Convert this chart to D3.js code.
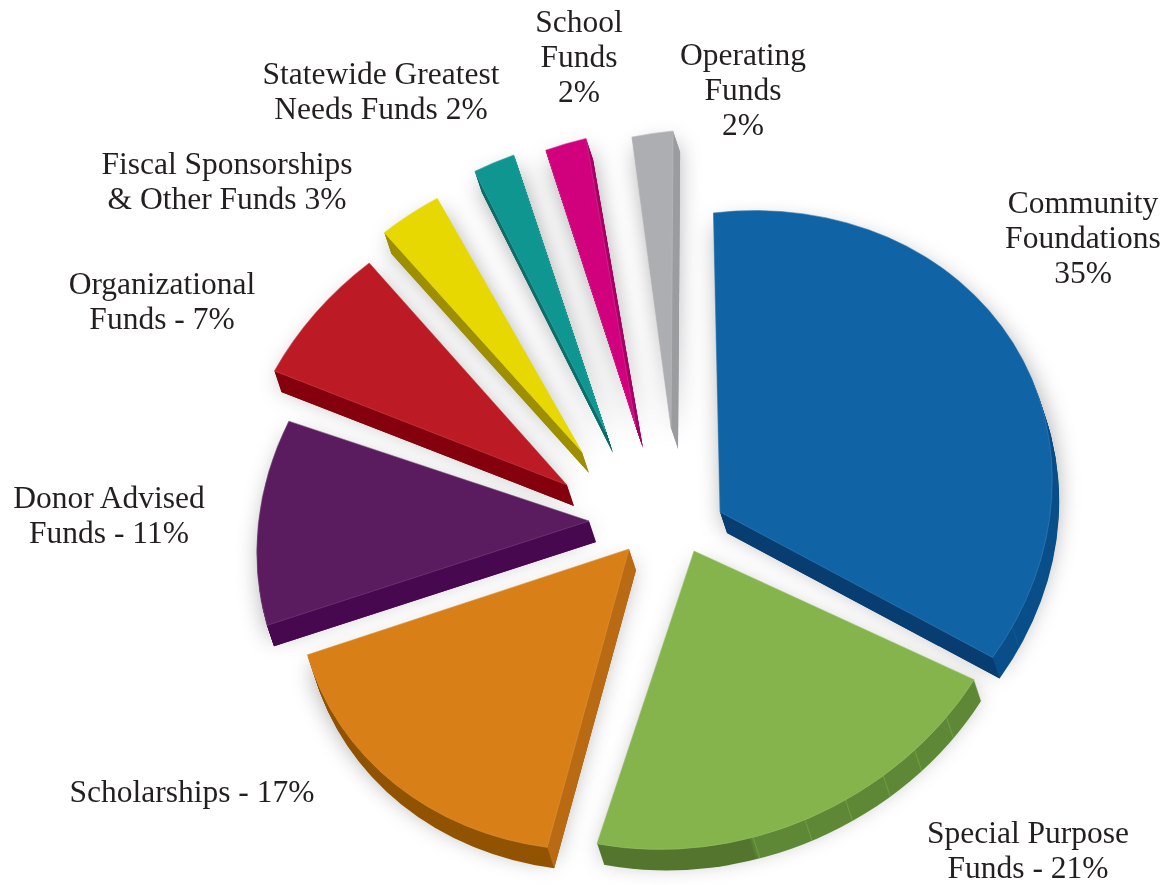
<!DOCTYPE html>
<html>
<head>
<meta charset="utf-8">
<script src="https://cdn.jsdelivr.net/npm/d3@7"></script>
<style>
  html, body { margin: 0; padding: 0; background: #fff; }
  text { font-family: "Liberation Serif", serif; fill: #231f20; }
</style>
</head>
<body>
<div id="container"></div>
<script>
//the data, as printed on the chart
var categories = ["Community Foundations", "Special Purpose Funds", "Scholarships", "Donor Advised Funds",
    "Organizational Funds", "Fiscal Sponsorships & Other Funds", "Statewide Greatest Needs Funds",
    "School Funds", "Operating Funds"];
var values = [35, 21, 17, 11, 7, 3, 2, 2, 2];
var labels = ["Community|Foundations|35%", "Special Purpose|Funds - 21%", "Scholarships - 17%", "Donor Advised|Funds - 11%",
    "Organizational|Funds - 7%", "Fiscal Sponsorships|& Other Funds 3%", "Statewide Greatest|Needs Funds 2%",
    "School|Funds|2%", "Operating|Funds|2%"];

//colors of each slice: top face, cut side, outer rim
var topColors = ["#1063a5", "#84b44b", "#d97f17", "#5a1c5e", "#bc1b26", "#e6d800", "#0f9690", "#d1007d", "#adaeb2"];
var sideColors = ["#073d70", "#5f8836", "#b96a12", "#48084f", "#84000d", "#9d8f00", "#0a6e6b", "#a60063", "#9b9c9f"];
var rimColors = ["#0a4f8a", "url(#greenRim)", "#925400", "#48084f", "#84000d", "#9d8f00", "#0a6e6b", "#a60063", "#9b9c9f"];

//how each slice is pulled out of the pie
var explodeX = [70, 44, -21, -61, -83, -68, -44, -14, 21];
var explodeY = [12, 51, 49, 21, -15, -48, -68, -73, -72];
//the 3d view is not quite a flat pie so slices get nudged a little
var spin = [0, -3.3, -6.2, -5.9, -3, -3.3, -0.7, -0.4, 1.5];
var grow = [1, 0.99, 1, 1, 1, 0.993, 0.993, 0.99, 0.99];
//joins in the outer wall, degrees round the pie
var seams = [[74.4, 115.5], [127, 135, 142, 149.7, 157.4, 166.8], [], [], [], [], [], [], []];

//label anchors
var labelX = [1083, 1028, 192, 109, 162, 227, 381, 579, 743];
var labelY = [213, 843, 802, 508, 294, 174, 84, 32, 65];

var width = 1166, height = 885;
var centerX = 650, centerY = 500;
var R = 100;
var lineHeight = 35;
//thickness of the pie
var depthX = 7, depthY = 21, depthSteps = 21;
//tilted ellipse of the view, applied to the flat arc
var view = [3.318, -0.166, -0.166, 3.01];

var svg = d3.select("#container").append("svg")
    .attr("width", width)
    .attr("height", height)
    .style("display", "block");

var defs = svg.append("defs");
defs.append("filter")
    .attr("id", "soft")
    .attr("filterUnits", "userSpaceOnUse")
    .attr("x", 0).attr("y", 0).attr("width", width).attr("height", height)
    .append("feGaussianBlur")
    .attr("stdDeviation", 12);

var greenRim = defs.append("linearGradient").attr("id", "greenRim");
greenRim.append("stop").attr("offset", 0.41).attr("stop-color", "#53752e");
greenRim.append("stop").attr("offset", 0.42).attr("stop-color", "#5f8836");

var pie = d3.pie().sort(null)
    .startAngle(-4 * Math.PI / 180)
    .endAngle(356 * Math.PI / 180);

var slices = pie(values).map(function (d, i) {
    var turn = spin[i] * Math.PI / 180;
    return {
        i: i,
        startAngle: d.startAngle + turn,
        endAngle: d.endAngle + turn,
        x: centerX + explodeX[i],
        y: centerY + explodeY[i]
    };
});

var arc = d3.arc()
    .innerRadius(0)
    .outerRadius(function (d) { return R * grow[d.i]; })
    .startAngle(function (d) { return d.startAngle; })
    .endAngle(function (d) { return d.endAngle; });

function faceTransform(d, k) {
    return "translate(" + (d.x + depthX * k) + "," + (d.y + depthY * k) + ") matrix(" + view.join(",") + ",0,0)";
}

//point on the rim of a slice, in page pixels
function rimPoint(d, t) {
    var u = Math.sin(t) * R * grow[d.i], v = -Math.cos(t) * R * grow[d.i];
    return [d.x + view[0] * u + view[2] * v, d.y + view[1] * u + view[3] * v];
}

function lighter(color, k) {
    return d3.interpolateRgb(color, "#fff")(k);
}

//shadows go first so they stay behind every slice
var shadows = svg.append("g").attr("class", "shadows")
    .attr("filter", "url(#soft)")
    .attr("opacity", 0.36);

shadows.selectAll("path")
    .data(slices)
    .enter().append("path")
    .attr("d", arc)
    .attr("fill", "#000")
    .attr("transform", function (d) { return faceTransform(d, 0.6); });

var groups = svg.selectAll(".slice")
    .data(slices)
    .enter().append("g")
    .attr("class", "slice");

//outer wall: the same arc stacked downwards
groups.each(function (d) {
    d3.select(this).selectAll(".wall")
        .data(d3.range(depthSteps, 0, -1))
        .enter().append("path")
        .attr("class", "wall")
        .attr("d", arc(d))
        .attr("fill", rimColors[d.i])
        .attr("transform", function (s) { return faceTransform(d, s / depthSteps); });
});

//cut sides, only the ones that face the viewer
var sideLine = d3.line();
groups.each(function (d) {
    var g = d3.select(this);
    var a = rimPoint(d, d.startAngle), b = rimPoint(d, d.endAngle);
    [[a, b], [b, a]].forEach(function (pair) {
        var p = pair[0], other = pair[1];
        var ex = p[0] - d.x, ey = p[1] - d.y;
        var towardDepth = ex * depthY - ey * depthX;
        var towardOther = ex * (other[1] - d.y) - ey * (other[0] - d.x);
        if (towardDepth * towardOther >= 0) return;
        g.append("path")
            .attr("d", sideLine([[d.x, d.y], p, [p[0] + depthX, p[1] + depthY], [d.x + depthX, d.y + depthY]]) + "Z")
            .attr("fill", sideColors[d.i]);
    });

    //faint joins on the outer wall
    g.selectAll(".seam")
        .data(seams[d.i])
        .enter().append("path")
        .attr("class", "seam")
        .attr("d", function (deg) {
            var p = rimPoint(d, deg * Math.PI / 180);
            return sideLine([p, [p[0] + depthX, p[1] + depthY]]);
        })
        .attr("stroke", topColors[d.i])
        .attr("stroke-width", 0.5)
        .attr("fill", "none");
});

//top face
groups.append("path")
    .attr("d", arc)
    .attr("fill", function (d) { return topColors[d.i]; })
    .attr("stroke", function (d) { return lighter(topColors[d.i], 0.2); })
    .attr("stroke-width", 0.6)
    .attr("vector-effect", "non-scaling-stroke")
    .attr("transform", function (d) { return faceTransform(d, 0); });

//labels
var text = svg.selectAll(".label")
    .data(labels)
    .enter().append("text")
    .attr("class", "label")
    .attr("text-anchor", "middle")
    .attr("font-size", 31.5);

text.selectAll("tspan")
    .data(function (d, i) {
        return d.split("|").map(function (line, n) {
            return { line: line, x: labelX[i], y: labelY[i] + n * lineHeight };
        });
    })
    .enter().append("tspan")
    .attr("x", function (d) { return d.x; })
    .attr("y", function (d) { return d.y; })
    .text(function (d) { return d.line; });
</script>
</body>
</html>
